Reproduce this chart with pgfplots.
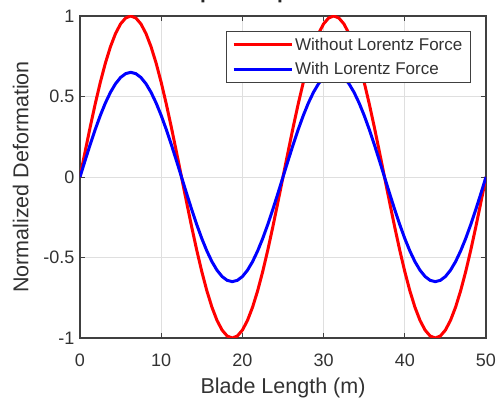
\documentclass[border=0pt]{standalone}
\usepackage{pgfplots}
\usepackage{pgfplotstable}
\pgfplotsset{compat=1.18}
\usepackage{fontspec}
\setmainfont{Liberation Sans}
\definecolor{axgray}{RGB}{64,64,64}
\definecolor{txtgray}{RGB}{50,50,50}
\definecolor{gridgray}{RGB}{223,223,223}
\pgfplotstableread{
x red blue
0 0 0
0.625 0.1564 0.1017
1.25 0.3090 0.2009
1.875 0.4540 0.2951
2.5 0.5878 0.3821
3.125 0.7071 0.4596
3.75 0.8090 0.5259
4.375 0.8910 0.5792
5 0.9511 0.6182
5.625 0.9877 0.6420
6.25 1 0.65
6.875 0.9877 0.6420
7.5 0.9511 0.6182
8.125 0.8910 0.5792
8.75 0.8090 0.5259
9.375 0.7071 0.4596
10 0.5878 0.3821
10.625 0.4540 0.2951
11.25 0.3090 0.2009
11.875 0.1564 0.1017
12.5 0 0
13.125 -0.1564 -0.1017
13.75 -0.3090 -0.2009
14.375 -0.4540 -0.2951
15 -0.5878 -0.3821
15.625 -0.7071 -0.4596
16.25 -0.8090 -0.5259
16.875 -0.8910 -0.5792
17.5 -0.9511 -0.6182
18.125 -0.9877 -0.6420
18.75 -1 -0.65
19.375 -0.9877 -0.6420
20 -0.9511 -0.6182
20.625 -0.8910 -0.5792
21.25 -0.8090 -0.5259
21.875 -0.7071 -0.4596
22.5 -0.5878 -0.3821
23.125 -0.4540 -0.2951
23.75 -0.3090 -0.2009
24.375 -0.1564 -0.1017
25 0 0
25.625 0.1564 0.1017
26.25 0.3090 0.2009
26.875 0.4540 0.2951
27.5 0.5878 0.3821
28.125 0.7071 0.4596
28.75 0.8090 0.5259
29.375 0.8910 0.5792
30 0.9511 0.6182
30.625 0.9877 0.6420
31.25 1 0.65
31.875 0.9877 0.6420
32.5 0.9511 0.6182
33.125 0.8910 0.5792
33.75 0.8090 0.5259
34.375 0.7071 0.4596
35 0.5878 0.3821
35.625 0.4540 0.2951
36.25 0.3090 0.2009
36.875 0.1564 0.1017
37.5 0 0
38.125 -0.1564 -0.1017
38.75 -0.3090 -0.2009
39.375 -0.4540 -0.2951
40 -0.5878 -0.3821
40.625 -0.7071 -0.4596
41.25 -0.8090 -0.5259
41.875 -0.8910 -0.5792
42.5 -0.9511 -0.6182
43.125 -0.9877 -0.6420
43.75 -1 -0.65
44.375 -0.9877 -0.6420
45 -0.9511 -0.6182
45.625 -0.8910 -0.5792
46.25 -0.8090 -0.5259
46.875 -0.7071 -0.4596
47.5 -0.5878 -0.3821
48.125 -0.4540 -0.2951
48.75 -0.3090 -0.2009
49.375 -0.1564 -0.1017
50 0 0
}\modedata
\begin{document}
\begin{tikzpicture}
\begin{axis}[
  name=ax,
  scale only axis,
  width=406pt, height=322pt,
  xmin=0, xmax=50, ymin=-1, ymax=1,
  xtick={0,10,20,30,40,50},
  ytick={-1,-0.5,0,0.5,1},
  xticklabels={0,10,20,30,40,50},
  yticklabels={-1,-0.5,0,0.5,1},
  /pgf/number format/assume math mode=true,
  tick align=inside,
  major tick length=5pt,
  tick style={axgray, line width=0.8pt},
  axis line style={axgray, line width=1.2pt},
  grid=major,
  grid style={gridgray, line width=0.8pt},
  ticklabel style={font=\fontsize{18}{20}\selectfont, text=txtgray},
  xticklabel style={yshift=-12.5pt},
  yticklabel style={xshift=-2pt},
  label style={font=\fontsize{21.5}{23}\selectfont, text=txtgray},
  xlabel={Blade Length (m)},
  ylabel={Normalized Deformation},
  xlabel style={yshift=-4pt},
  ylabel style={yshift=8pt},
  title={\textbf{Mode Shape Comparison for Mode 4}},
  title style={font=\fontsize{21}{23}\selectfont, text=black!85, at={(0.5,1)}, anchor=base, yshift=11pt},
  legend style={at={(0.963,0.953)}, anchor=north east, draw=axgray, line width=1.2pt,
    font=\fontsize{17}{19}\selectfont, text=txtgray, fill=white,
    inner xsep=6pt, inner ysep=4pt, row sep=7pt},
  legend cell align=left,
  legend image code/.code={\draw[#1, line width=3pt] (0pt,0pt) -- (58pt,0pt);},
]
\addplot[red, line width=3pt] table[x=x, y=red] {\modedata};
\addlegendentry{Without Lorentz Force}
\addplot[blue, line width=3pt] table[x=x, y=blue] {\modedata};
\addlegendentry{With Lorentz Force}
\end{axis}
\pgfresetboundingbox
\path[use as bounding box] ([xshift=-80pt, yshift=-62pt]ax.south west) rectangle ([xshift=15pt, yshift=16pt]ax.north east);
\end{tikzpicture}
\end{document}
